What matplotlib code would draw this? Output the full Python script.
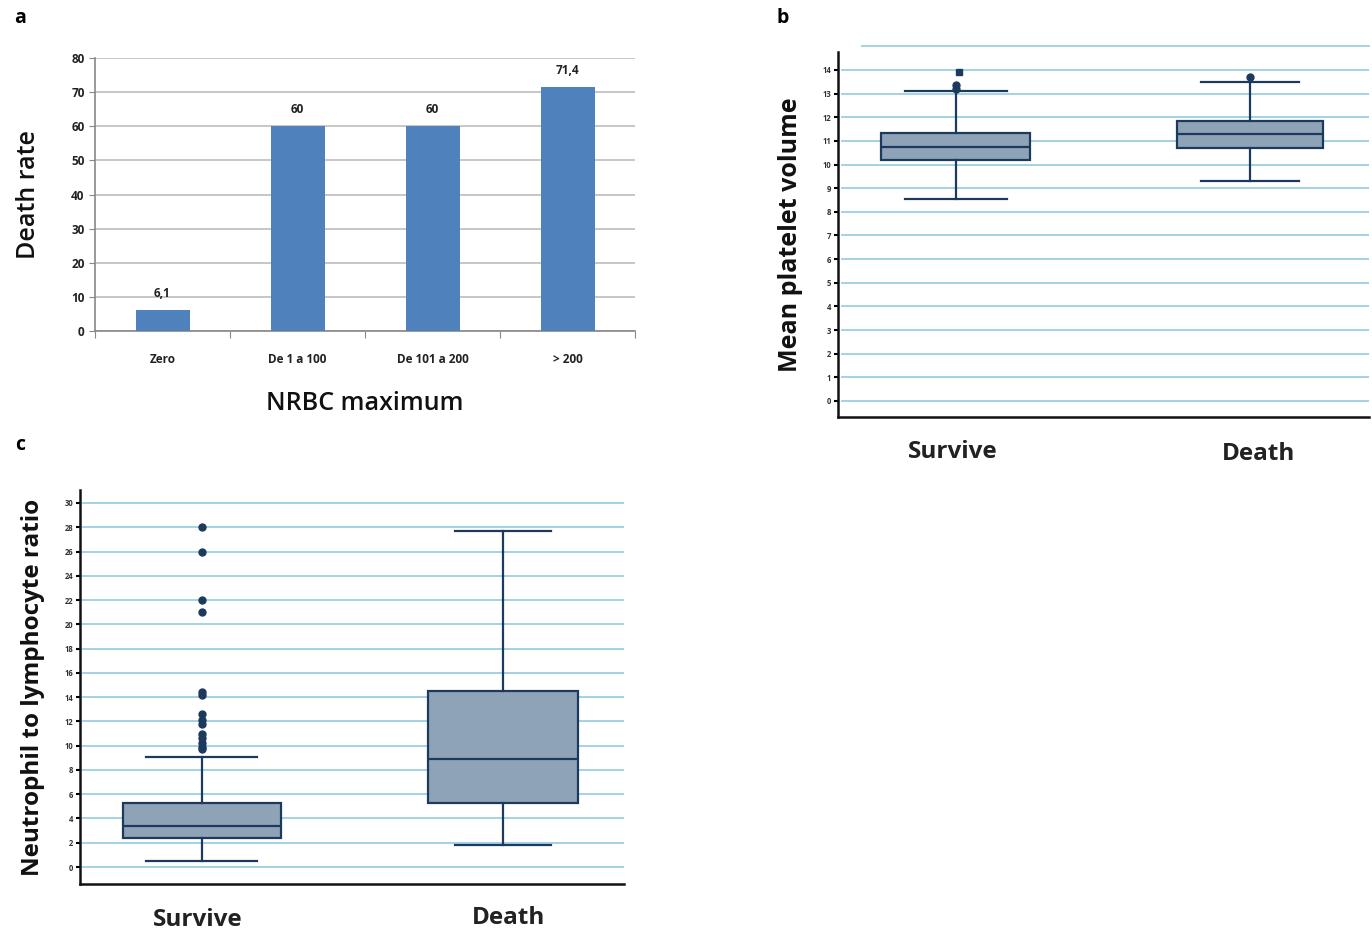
import matplotlib.pyplot as plt

# panel a data
nrbc_groups = ['Zero', 'De 1 a 100', 'De 101 a 200', '> 200']
death_rate = [6.1, 60, 60, 71.4]
death_rate_labels = ['6,1', '60', '60', '71,4']

# panel b: mean platelet volume (survive, death)
mpv_groups = ['Survive', 'Death']
mpv_q1 = [10.18, 10.68]
mpv_med = [10.74, 11.28]
mpv_q3 = [11.34, 11.86]
mpv_low = [8.55, 9.32]
mpv_high = [13.12, 13.47]
mpv_out_survive = [13.2, 13.38]
mpv_out_survive_sq = [13.93]
mpv_out_death = [13.72]

# panel c: neutrophil to lymphocyte ratio
nlr_groups = ['Survive', 'Death']
nlr_q1 = [2.38, 5.28]
nlr_med = [3.4, 8.9]
nlr_q3 = [5.28, 14.5]
nlr_low = [0.5, 1.8]
nlr_high = [9.05, 27.7]
nlr_out_survive = [9.7, 9.9, 10.2, 10.6, 11.0, 11.8, 12.1, 12.6, 14.2, 14.4, 21.0, 22.0, 26.0, 28.0]
nlr_out_death = []

W, H = 1372, 934
fig = plt.figure(figsize=(W / 100, H / 100), dpi=100)
plt.rcParams['font.family'] = ['Open Sans', 'DejaVu Sans']

def px_axes(x0, y0, x1, y1):
    return fig.add_axes([x0 / W, 1 - y1 / H, (x1 - x0) / W, (y1 - y0) / H])

grid_blue = '#9ccfe0'
box_fill = '#8fa3b7'
box_edge = '#1c3a5e'

# ---- panel a ----
ax = px_axes(95, 58, 635, 331)
ax.bar(range(4), death_rate, width=0.4, color='#4f81bd', zorder=3)
for i, (v, t) in enumerate(zip(death_rate, death_rate_labels)):
    ax.text(i, v + 3, t, ha='center', va='bottom', fontsize=8.5, fontweight='bold', color='#222222')
ax.set_xlim(-0.5, 3.5)
ax.set_ylim(0, 80)
ax.set_yticks(range(0, 81, 10))
ax.grid(axis='y', color='#bdbdbd', linewidth=1.2, zorder=0)
ax.set_xticks([-0.5, 0.5, 1.5, 2.5, 3.5])
ax.set_xticklabels([])
ax.tick_params(axis='x', length=5, color='#888888')
ax.tick_params(axis='y', length=4, color='#888888', labelsize=8.5, labelcolor='#222222')
for lbl in ax.get_yticklabels():
    lbl.set_fontweight('bold')
for i, name in enumerate(nrbc_groups):
    ax.text(i, -6.5, name, ha='center', va='top', fontsize=8.5, fontweight='bold', color='#222222')
for s in ['top', 'right']:
    ax.spines[s].set_visible(False)
for s in ['left', 'bottom']:
    ax.spines[s].set_color('#888888')
    ax.spines[s].set_linewidth(1.2)
ax.text(1.5, -17.5, 'NRBC maximum', ha='center', va='top', fontsize=18, fontweight='semibold', color='#111111')
ax.set_ylabel('Death rate', fontsize=18, fontweight='semibold', color='#111111', labelpad=22)
fig.text(20 / W, 1 - 18 / H, 'a', fontsize=14, fontweight='bold', ha='center', va='center')


def box_panel(ax, groups, q1, med, q3, low, high, outliers, widths, capw):
    stats = []
    for i in range(len(groups)):
        stats.append(dict(med=med[i], q1=q1[i], q3=q3[i], whislo=low[i], whishi=high[i],
                          fliers=outliers[i], label=groups[i]))
    ax.bxp(stats, positions=[1, 2], widths=widths, capwidths=capw, patch_artist=True,
           boxprops=dict(facecolor=box_fill, edgecolor=box_edge, linewidth=1.6),
           medianprops=dict(color=box_edge, linewidth=1.6),
           whiskerprops=dict(color=box_edge, linewidth=1.6),
           capprops=dict(color=box_edge, linewidth=1.6),
           flierprops=dict(marker='o', markerfacecolor=box_edge, markeredgecolor=box_edge, markersize=5),
           zorder=3)
    ax.set_xticks([])
    for s in ['top', 'right']:
        ax.spines[s].set_visible(False)
    for s in ['left', 'bottom']:
        ax.spines[s].set_color('#111111')
        ax.spines[s].set_linewidth(1.8)
    ax.tick_params(axis='y', length=3, width=1.5, labelsize=5.5, labelcolor='#333333', pad=2)
    for lbl in ax.get_yticklabels():
        lbl.set_fontweight('bold')


# ---- panel b ----
ax = px_axes(838, 52, 1369, 417)
box_panel(ax, mpv_groups, mpv_q1, mpv_med, mpv_q3, mpv_low, mpv_high,
          [mpv_out_survive, mpv_out_death], [0.507, 0.497], [0.347, 0.333])
ax.plot([1.01] * len(mpv_out_survive_sq), mpv_out_survive_sq, 's', color=box_edge, markersize=4.5, zorder=4)
ax.set_xlim(0.599, 2.405)
ax.set_ylim(-0.68, 14.76)
ax.set_yticks(range(0, 15))
for v in range(0, 15):
    ax.axhline(v, xmin=0.008, xmax=1, color=grid_blue, linewidth=1.3, zorder=0)
ax.axhline(15, xmin=0.045, xmax=1, color=grid_blue, linewidth=1.3, zorder=0, clip_on=False)
ax.text(0.99, -1.65, 'Survive', ha='center', va='top', fontsize=17.5, fontweight='bold', color='#222222')
ax.text(2.03, -1.75, 'Death', ha='center', va='top', fontsize=17.5, fontweight='bold', color='#222222')
ax.set_ylabel('Mean platelet volume', fontsize=18, fontweight='bold', color='#111111', labelpad=14)
fig.text(783 / W, 1 - 18 / H, 'b', fontsize=14, fontweight='bold', ha='center', va='center')

# ---- panel c ----
ax = px_axes(80, 490, 624, 884)
box_panel(ax, nlr_groups, nlr_q1, nlr_med, nlr_q3, nlr_low, nlr_high,
          [nlr_out_survive, nlr_out_death], [0.522, 0.498], [0.369, 0.319])
ax.set_xlim(0.595, 2.402)
ax.set_ylim(-1.4, 31.07)
ax.set_yticks(range(0, 31, 2))
for v in range(0, 31, 2):
    ax.axhline(v, xmin=0.006, xmax=1, color=grid_blue, linewidth=1.3, zorder=0)
ax.text(0.985, -3.35, 'Survive', ha='center', va='top', fontsize=17.5, fontweight='bold', color='#222222')
ax.text(2.02, -3.2, 'Death', ha='center', va='top', fontsize=17.5, fontweight='bold', color='#222222')
ax.set_ylabel('Neutrophil to lymphocyte ratio', fontsize=17.5, fontweight='bold', color='#111111', labelpad=14)
fig.text(20 / W, 1 - 445 / H, 'c', fontsize=14, fontweight='bold', ha='center', va='center')

fig.savefig('out.png', dpi=100)
